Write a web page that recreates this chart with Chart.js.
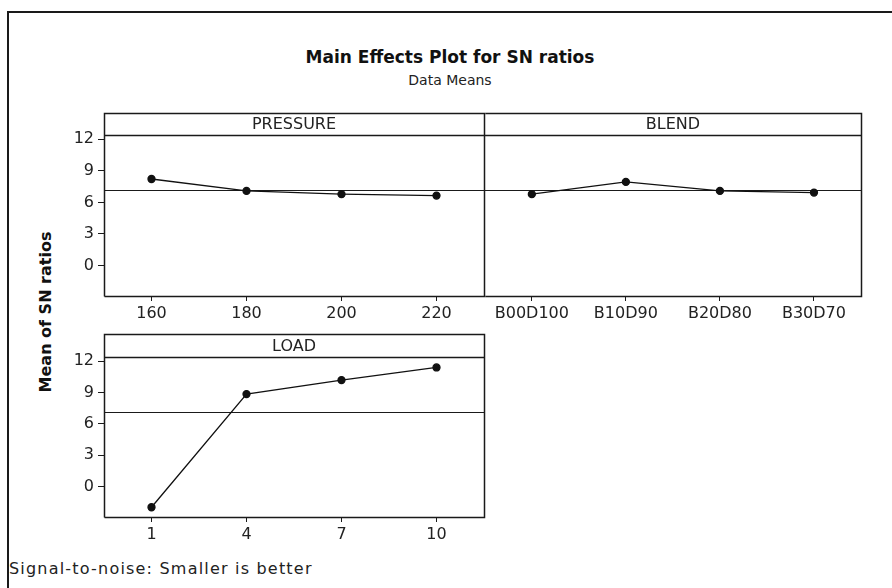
<!DOCTYPE html>
<html>
<head>
<meta charset="utf-8">
<script src="https://cdn.jsdelivr.net/npm/chart.js@4.4.1/dist/chart.umd.min.js"></script>
<style>
  body { margin: 0; width: 892px; height: 588px; overflow: hidden; position: relative; background: #fff;
         font-family: "DejaVu Sans", sans-serif; color: #222; }
  #frame { position: absolute; left: 7px; top: 11px; width: 900px; height: 600px; border: 2px solid #1a1a1a; }
  .txt { position: absolute; white-space: nowrap; }
  #title { left: 0; width: 900px; top: 47px; text-align: center; font-size: 17px; font-weight: bold; color: #111; }
  #subtitle { left: 0; width: 900px; top: 72px; text-align: center; font-size: 14px; color: #222; }
  #ytitle { left: 45px; top: 312px; font-size: 16px; font-weight: bold; color: #111;
            transform: translate(-50%, -50%) rotate(-90deg); }
  #foot { left: 9px; top: 559px; font-size: 16px; letter-spacing: 1.2px; color: #222; }
  canvas { position: absolute; }
</style>
</head>
<body>
<div id="frame"></div>
<div class="txt" id="title">Main Effects Plot for SN ratios</div>
<div class="txt" id="subtitle">Data Means</div>
<div class="txt" id="ytitle">Mean of SN ratios</div>
<div class="txt" id="foot">Signal-to-noise: Smaller is better</div>

<canvas id="c-pressure" width="490" height="230" style="left:0;top:100px"></canvas>
<canvas id="c-blend"    width="400" height="230" style="left:480px;top:100px"></canvas>
<canvas id="c-load"     width="490" height="230" style="left:0;top:320px"></canvas>

<script>
/* ── data ─────────────────────────────────────────────────────────── */
const pressureLabels = ['160', '180', '200', '220'];
const pressureSN     = [8.22, 7.09, 6.78, 6.64];

const blendLabels = ['B00D100', 'B10D90', 'B20D80', 'B30D70'];
const blendSN     = [6.78, 7.94, 7.09, 6.93];

const loadLabels = ['1', '4', '7', '10'];
const loadSN     = [-1.97, 8.85, 10.19, 11.40];

const yTicks    = [0, 3, 6, 9, 12];
const yMin      = -2.9;
const yMax      = 12.4;
const grandMean = 7.17;

/* ── panel frame, strip header and mean line ─────────────────────── */
const panelFrame = {
  id: 'panelFrame',
  beforeDatasetsDraw(chart) {
    const { ctx, chartArea: a, scales } = chart;
    const y = Math.round(scales.y.getPixelForValue(grandMean)) + 0.5;
    ctx.save();
    ctx.strokeStyle = '#1a1a1a';
    ctx.lineWidth = 1;
    ctx.beginPath();
    ctx.moveTo(a.left, y);
    ctx.lineTo(a.right, y);
    ctx.stroke();
    ctx.restore();
  },
  afterDraw(chart, args, opts) {
    const { ctx, chartArea: a } = chart;
    const top = a.top - opts.strip;
    const l = a.left + 0.5, r = a.right + 0.5, t = top + 0.5, b = a.bottom + 0.5;
    ctx.save();
    ctx.strokeStyle = '#1a1a1a';
    ctx.lineWidth = 1.5;
    ctx.beginPath();
    // left side is skipped when the neighbouring panel already draws it
    if (opts.leftEdge) { ctx.moveTo(l, b); ctx.lineTo(l, t); } else { ctx.moveTo(l, t); }
    ctx.lineTo(r, t);
    ctx.lineTo(r, b);
    ctx.lineTo(l, b);
    ctx.moveTo(a.left, a.top + 0.5);
    ctx.lineTo(a.right, a.top + 0.5);
    ctx.stroke();
    ctx.fillStyle = '#222';
    ctx.font = '16px "DejaVu Sans", sans-serif';
    ctx.textAlign = 'center';
    ctx.textBaseline = 'middle';
    ctx.fillText(opts.name, (a.left + a.right) / 2, top + opts.strip / 2 + 1);
    ctx.restore();
  },
};

function makePanel(id, name, labels, values, o) {
  const tickFont = { family: '"DejaVu Sans", sans-serif', size: 16 };
  return new Chart(document.getElementById(id), {
    type: 'line',
    data: {
      labels,
      datasets: [{
        data: values,
        borderColor: '#111',
        borderWidth: 1.3,
        backgroundColor: '#111',
        pointRadius: 3.5,
        pointHoverRadius: 3.5,
        tension: 0,
      }],
    },
    options: {
      responsive: false,
      animation: false,
      events: [],
      layout: { padding: { top: o.padTop, left: o.padLeft, right: o.padRight, bottom: 0 } },
      plugins: {
        legend: { display: false },
        tooltip: { enabled: false },
        panelFrame: { name, strip: o.strip, leftEdge: o.showY },
      },
      scales: {
        x: {
          offset: true,
          border: { display: false },
          grid: { display: true, drawOnChartArea: false, tickLength: 5, color: '#1a1a1a', offset: false },
          ticks: { color: '#222', font: tickFont, padding: 3, maxRotation: 0, autoSkip: false },
          afterFit: s => { s.height = o.xHeight; },
        },
        y: {
          display: o.showY,
          min: yMin,
          max: yMax,
          border: { display: false },
          grid: { display: true, drawOnChartArea: false, tickLength: 6, color: '#1a1a1a' },
          ticks: { color: '#222', font: tickFont, padding: 4 },
          afterBuildTicks: s => { s.ticks = yTicks.map(v => ({ value: v })); },
          afterFit: s => { s.width = o.showY ? 104 : 0; },
        },
      },
    },
    plugins: [panelFrame],
  });
}

makePanel('c-pressure', 'PRESSURE', pressureLabels, pressureSN,
  { showY: true,  padTop: 35, padLeft: 0, padRight: 6,  xHeight: 34, strip: 22 });
makePanel('c-blend', 'BLEND', blendLabels, blendSN,
  { showY: false, padTop: 35, padLeft: 4, padRight: 19, xHeight: 34, strip: 22 });
makePanel('c-load', 'LOAD', loadLabels, loadSN,
  { showY: true,  padTop: 37, padLeft: 0, padRight: 6,  xHeight: 33, strip: 23 });
</script>
</body>
</html>
